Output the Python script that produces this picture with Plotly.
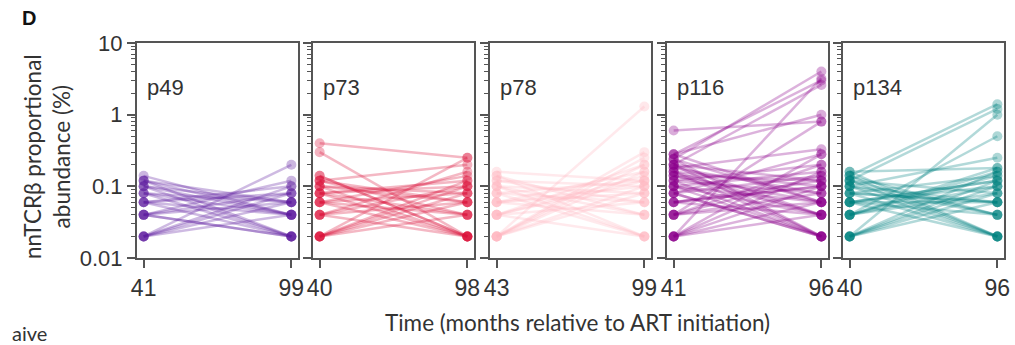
import plotly.graph_objects as go

W, H = 1015, 345

patients = ["p49", "p73", "p78", "p116", "p134"]
time_early = [41, 40, 43, 41, 40]
time_late = [99, 98, 99, 96, 96]
colors = ["92,28,160", "220,20,60", "255,182,193", "139,0,139", "0,130,128"]

p49_early = [0.02, 0.02, 0.02, 0.02, 0.04, 0.04, 0.04, 0.04, 0.06, 0.06,
             0.06, 0.08, 0.08, 0.08, 0.10, 0.10, 0.12, 0.12, 0.14, 0.04,
             0.06, 0.02, 0.10, 0.12]
p49_late = [0.20, 0.10, 0.08, 0.04, 0.12, 0.06, 0.02, 0.08, 0.04, 0.02,
            0.10, 0.02, 0.04, 0.06, 0.02, 0.04, 0.02, 0.06, 0.04, 0.02,
            0.08, 0.06, 0.06, 0.04]

p73_early = [0.40, 0.30, 0.14, 0.12, 0.12, 0.10, 0.10, 0.10, 0.08, 0.08,
             0.08, 0.08, 0.06, 0.06, 0.06, 0.06, 0.04, 0.04, 0.04, 0.04,
             0.02, 0.02, 0.02, 0.02, 0.02, 0.02, 0.12, 0.14]
p73_late = [0.25, 0.02, 0.02, 0.04, 0.20, 0.02, 0.06, 0.08, 0.04, 0.02,
            0.10, 0.12, 0.02, 0.04, 0.08, 0.14, 0.06, 0.10, 0.02, 0.16,
            0.25, 0.08, 0.06, 0.10, 0.12, 0.04, 0.06, 0.02]

p78_early = [0.02, 0.02, 0.02, 0.02, 0.02, 0.02, 0.04, 0.04, 0.04, 0.04,
             0.06, 0.06, 0.06, 0.08, 0.08, 0.08, 0.10, 0.10, 0.10, 0.12,
             0.12, 0.14, 0.14, 0.16, 0.06, 0.04, 0.02]
p78_late = [1.30, 0.30, 0.20, 0.16, 0.25, 0.10, 0.12, 0.06, 0.02, 0.14,
            0.04, 0.10, 0.08, 0.02, 0.06, 0.12, 0.04, 0.08, 0.02, 0.06,
            0.10, 0.04, 0.02, 0.12, 0.16, 0.20, 0.08]

p116_early = [0.60, 0.24, 0.28, 0.20, 0.02, 0.28, 0.18, 0.04, 0.24, 0.20,
              0.16, 0.14, 0.12, 0.10, 0.28, 0.24, 0.20, 0.18, 0.16, 0.14,
              0.12, 0.10, 0.08, 0.08, 0.06, 0.06, 0.04, 0.04, 0.02, 0.02,
              0.02, 0.10, 0.08, 0.06, 0.04, 0.02, 0.12, 0.14, 0.16, 0.20,
              0.02, 0.04, 0.06, 0.08, 0.10]
p116_late = [0.80, 4.00, 3.00, 2.60, 3.20, 1.00, 0.33, 0.80, 0.02, 0.02,
             0.02, 0.04, 0.02, 0.04, 0.06, 0.06, 0.04, 0.08, 0.10, 0.12,
             0.20, 0.16, 0.14, 0.28, 0.12, 0.10, 0.06, 0.08, 0.04, 0.10,
             0.16, 0.02, 0.02, 0.04, 0.20, 0.28, 0.08, 0.06, 0.04, 0.12,
             0.06, 0.14, 0.10, 0.02, 0.06]

p134_early = [0.14, 0.12, 0.02, 0.04, 0.10, 0.16, 0.08, 0.06, 0.14, 0.12,
              0.10, 0.08, 0.06, 0.04, 0.02, 0.02, 0.02, 0.04, 0.04, 0.06,
              0.06, 0.08, 0.10, 0.12, 0.14, 0.16, 0.02, 0.04, 0.06, 0.08,
              0.10, 0.12, 0.02, 0.04, 0.06]
p134_late = [1.40, 1.20, 1.00, 0.50, 0.25, 0.18, 0.14, 0.12, 0.02, 0.02,
             0.04, 0.06, 0.02, 0.10, 0.12, 0.08, 0.06, 0.14, 0.16, 0.10,
             0.04, 0.02, 0.06, 0.08, 0.04, 0.02, 0.16, 0.18, 0.12, 0.06,
             0.02, 0.04, 0.10, 0.08, 0.06]

early_values = [p49_early, p73_early, p78_early, p116_early, p134_early]
late_values = [p49_late, p73_late, p78_late, p116_late, p134_late]

ytick_vals = [0.01, 0.1, 1, 10]
ytick_text = ["0.01", "0.1", "1", "10"]
minor_vals = [m * 10 ** e for e in (-2, -1, 0) for m in range(2, 10)]

# layout geometry (pixels)
panel_left = [137, 313, 490, 667, 843]
panel_w = 161
plot_top, plot_bottom = 43, 258
AX = "#555555"
TICKFONT = "Liberation Sans, Arial, sans-serif"
TITLEFONT = "Lato, Open Sans, sans-serif"

fig = go.Figure()
layout = dict(
    width=W, height=H, margin=dict(l=0, r=0, t=0, b=0),
    paper_bgcolor="white", plot_bgcolor="white", showlegend=False,
)

for i, name in enumerate(patients):
    xa = "x" if i == 0 else f"x{i+1}"
    ya = "y" if i == 0 else f"y{i+1}"
    rgb = colors[i]
    for e, l in zip(early_values[i], late_values[i]):
        fig.add_trace(go.Scatter(
            x=[time_early[i], time_late[i]], y=[e, l],
            mode="lines+markers", xaxis=xa, yaxis=ya,
            line=dict(color=f"rgba({rgb},0.3)", width=2.5),
            marker=dict(color=f"rgba({rgb},0.32)", size=10, line=dict(width=0)),
            hoverinfo="skip",
        ))
    t0, t1 = time_early[i], time_late[i]
    pad = 0.045 * (t1 - t0)
    d0 = panel_left[i] / W
    d1 = (panel_left[i] + panel_w) / W
    layout["xaxis" if i == 0 else f"xaxis{i+1}"] = dict(
        domain=[d0, d1], anchor=ya, range=[t0 - pad, t1 + pad],
        tickvals=[t0, t1], ticktext=[str(t0), str(t1)],
        ticks="outside", ticklen=8, tickwidth=1.5, tickcolor=AX,
        showline=True, linecolor=AX, linewidth=2, mirror=True,
        showgrid=False, zeroline=False, automargin=False,
        tickfont=dict(family=TICKFONT, size=23, color="#333333"),
    )
    layout["yaxis" if i == 0 else f"yaxis{i+1}"] = dict(
        domain=[1 - plot_bottom / H, 1 - plot_top / H], anchor=xa,
        type="log", range=[-2, 1],
        tickvals=ytick_vals, ticktext=ytick_text, showticklabels=(i == 0),
        ticks="outside", ticklen=8, tickwidth=1.5, tickcolor=AX,
        minor=dict(tickvals=minor_vals, ticks="outside", ticklen=4,
                   tickwidth=1, tickcolor=AX, showgrid=False),
        showline=True, linecolor=AX, linewidth=2, mirror=True,
        showgrid=False, zeroline=False, automargin=False,
        tickfont=dict(family=TICKFONT, size=22, color="#333333"),
    )

annotations = []
for i, name in enumerate(patients):
    annotations.append(dict(
        x=(panel_left[i] + 8) / W, y=1 - 88 / H, xref="paper", yref="paper",
        text=name, showarrow=False, xanchor="left", yanchor="middle",
        font=dict(family=TICKFONT, size=22, color="#333333"),
    ))
annotations += [
    dict(x=20 / W, y=1 - 18 / H, xref="paper", yref="paper", text="<b>D</b>",
         showarrow=False, xanchor="left", yanchor="middle",
         font=dict(family=TICKFONT, size=20, color="#111111")),
    dict(x=47 / W, y=1 - 157 / H, xref="paper", yref="paper",
         text="nnTCRβ proportional<br>abundance (%)", textangle=-90,
         showarrow=False, xanchor="center", yanchor="middle",
         font=dict(family=TITLEFONT, size=22.5, color="#333333")),
    dict(x=577 / W, y=1 - 322 / H, xref="paper", yref="paper",
         text="Time (months relative to ART initiation)",
         showarrow=False, xanchor="center", yanchor="middle",
         font=dict(family=TITLEFONT, size=22.5, color="#333333")),
    dict(x=10 / W, y=1 - 333 / H, xref="paper", yref="paper", text="aive",
         showarrow=False, xanchor="left", yanchor="middle",
         font=dict(family=TITLEFONT, size=20, color="#333333")),
]
layout["annotations"] = annotations
fig.update_layout(**layout)
fig.write_html("out.html")
